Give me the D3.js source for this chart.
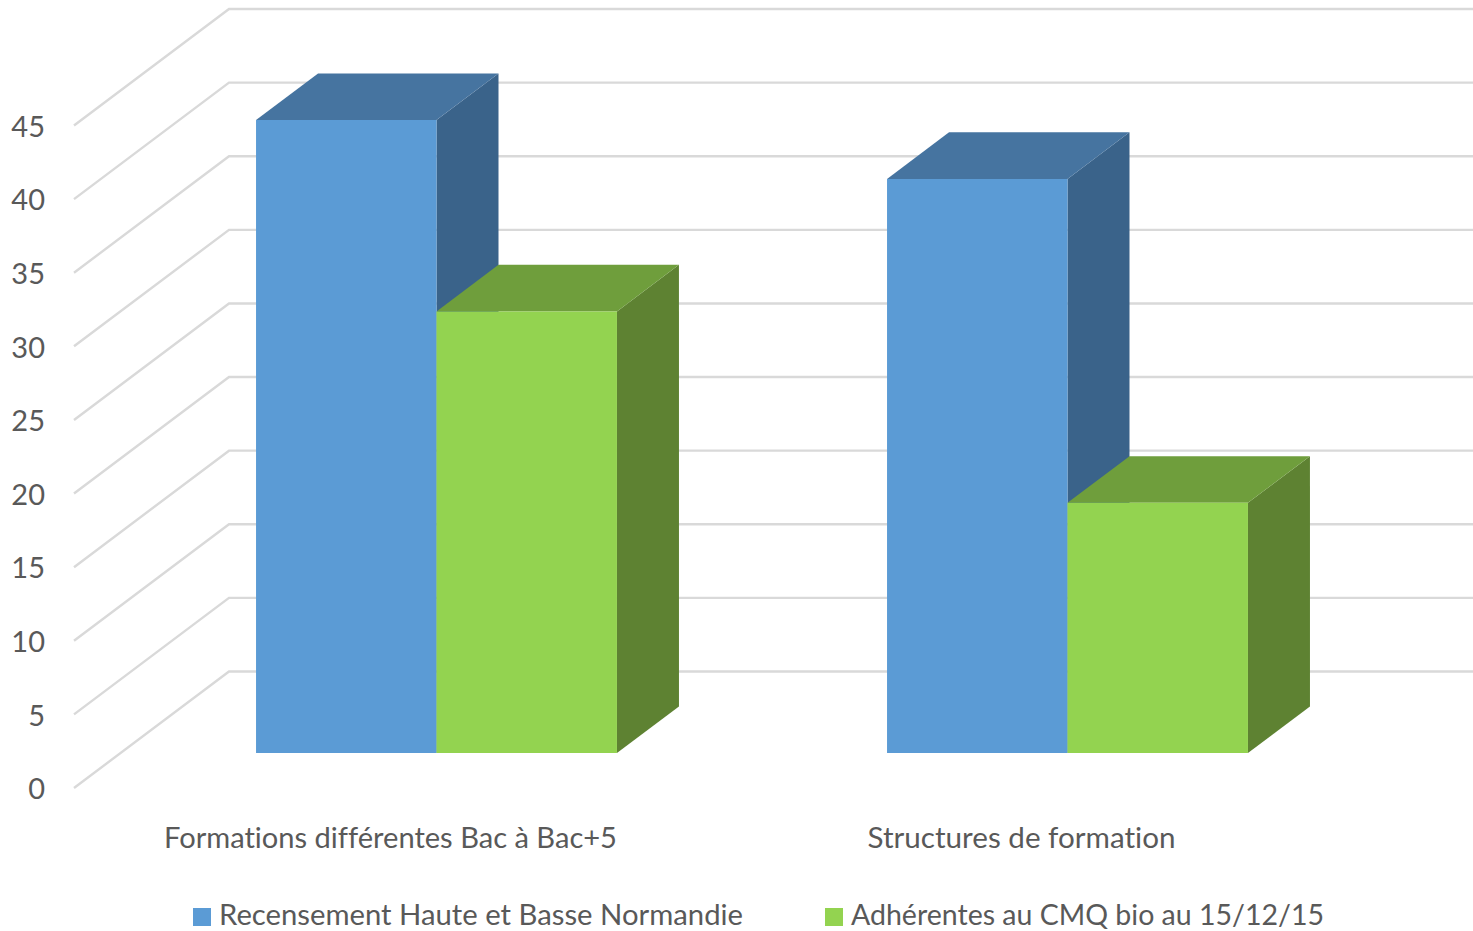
<!DOCTYPE html>
<html>
<head>
<meta charset="utf-8">
<script src="https://cdn.jsdelivr.net/npm/d3@7"></script>
<style>
  html, body { margin: 0; padding: 0; background: #fff; overflow: hidden; }
  text { font-family: Lato, "Open Sans", sans-serif; fill: #595959; font-variant-ligatures: none; }
</style>
</head>
<body>
<svg id="chart" width="1473" height="931"></svg>
<script>
const categories = ["Formations différentes Bac à Bac+5", "Structures de formation"];
const seriesNames = ["Recensement Haute et Basse Normandie", "Adhérentes au CMQ bio au 15/12/15"];
const recensement = [43, 39];
const adherentes = [30, 17];
const yTicks = [0, 5, 10, 15, 20, 25, 30, 35, 40, 45];

const frontColors = ["#5b9bd5", "#93d350"];
const topColors = ["#4674a0", "#6f9e3c"];
const sideColors = ["#3a638a", "#5e8232"];
const gridColor = "#d9d9d9";
const fontSize = 29;

const svg = d3.select("#chart");

// floor front edge goes 74 -> 1336, the rest is the 3d offset
const depthX = 155, depthY = 116.5;
const barFront = 0.30, barBack = 0.70;

const x0 = d3.scaleBand().domain(categories).range([74.5, 1336.5]).paddingInner(0.428).paddingOuter(0.214);
const x1 = d3.scaleBand().domain([0, 1]).range([0, x0.bandwidth()]);
const y = d3.scaleLinear().domain([0, 45]).range([788, 125.5]);

function project(x, v, t) {
  return [x + t * depthX, y(v) - t * depthY];
}

// grid: side wall diagonal + back wall line
const grid = svg.append("g");
yTicks.forEach(v => {
  grid.append("path")
    .attr("fill", "none")
    .attr("stroke", gridColor)
    .attr("stroke-width", 2.4)
    .attr("d", d3.line()([project(74, v, 0), project(74, v, 1), project(1336, v, 1)]));
});

// y axis labels
const yAxis = svg.append("g")
  .attr("transform", "translate(74,1.5)")
  .call(d3.axisLeft(y).tickValues(yTicks).tickSize(0).tickPadding(29));
yAxis.select(".domain").remove();
yAxis.selectAll("text").style("font-size", fontSize + "px").style("font-family", null);

// x axis labels
const categoryWidth = [453, 308];
const xAxis = svg.append("g")
  .attr("transform", "translate(0,827)")
  .call(d3.axisBottom(d3.scalePoint().domain(categories).range([x0(categories[0]) + x0.bandwidth() / 2, x0(categories[1]) + x0.bandwidth() / 2])).tickSize(0).tickPadding(0));
xAxis.select(".domain").remove();
xAxis.selectAll("text").style("font-size", fontSize + "px").style("font-family", null)
  .attr("textLength", (d, i) => categoryWidth[i]).attr("lengthAdjust", "spacingAndGlyphs");

// bars
const barData = [];
categories.forEach((c, i) => {
  [recensement[i], adherentes[i]].forEach((v, s) => barData.push({ cat: c, s: s, v: v }));
});

const poly = d3.line();
const bars = svg.append("g").selectAll("g").data(barData).enter().append("g");

bars.append("path")
  .attr("fill", d => sideColors[d.s])
  .attr("d", d => {
    const r = x0(d.cat) + x1(d.s) + x1.bandwidth();
    return poly([project(r, 0, barFront), project(r, 0, barBack), project(r, d.v, barBack), project(r, d.v, barFront)]) + "Z";
  });

bars.append("path")
  .attr("fill", d => topColors[d.s])
  .attr("d", d => {
    const l = x0(d.cat) + x1(d.s), r = l + x1.bandwidth();
    return poly([project(l, d.v, barFront), project(r, d.v, barFront), project(r, d.v, barBack), project(l, d.v, barBack)]) + "Z";
  });

bars.append("path")
  .attr("fill", d => frontColors[d.s])
  .attr("d", d => {
    const l = x0(d.cat) + x1(d.s), r = l + x1.bandwidth();
    return poly([project(l, 0, barFront), project(r, 0, barFront), project(r, d.v, barFront), project(l, d.v, barFront)]) + "Z";
  });

// legend
const legendX = [193, 825];
const legendWidth = [524, 473];
const legend = svg.append("g").selectAll("g").data(seriesNames).enter().append("g")
  .attr("transform", (d, i) => `translate(${legendX[i]},908)`);
legend.append("rect").attr("width", 18).attr("height", 18).attr("fill", (d, i) => frontColors[i]);
legend.append("text").attr("x", 26).attr("y", 16.5).style("font-size", fontSize + "px")
  .attr("textLength", (d, i) => legendWidth[i]).attr("lengthAdjust", "spacingAndGlyphs").text(d => d);
</script>
</body>
</html>
